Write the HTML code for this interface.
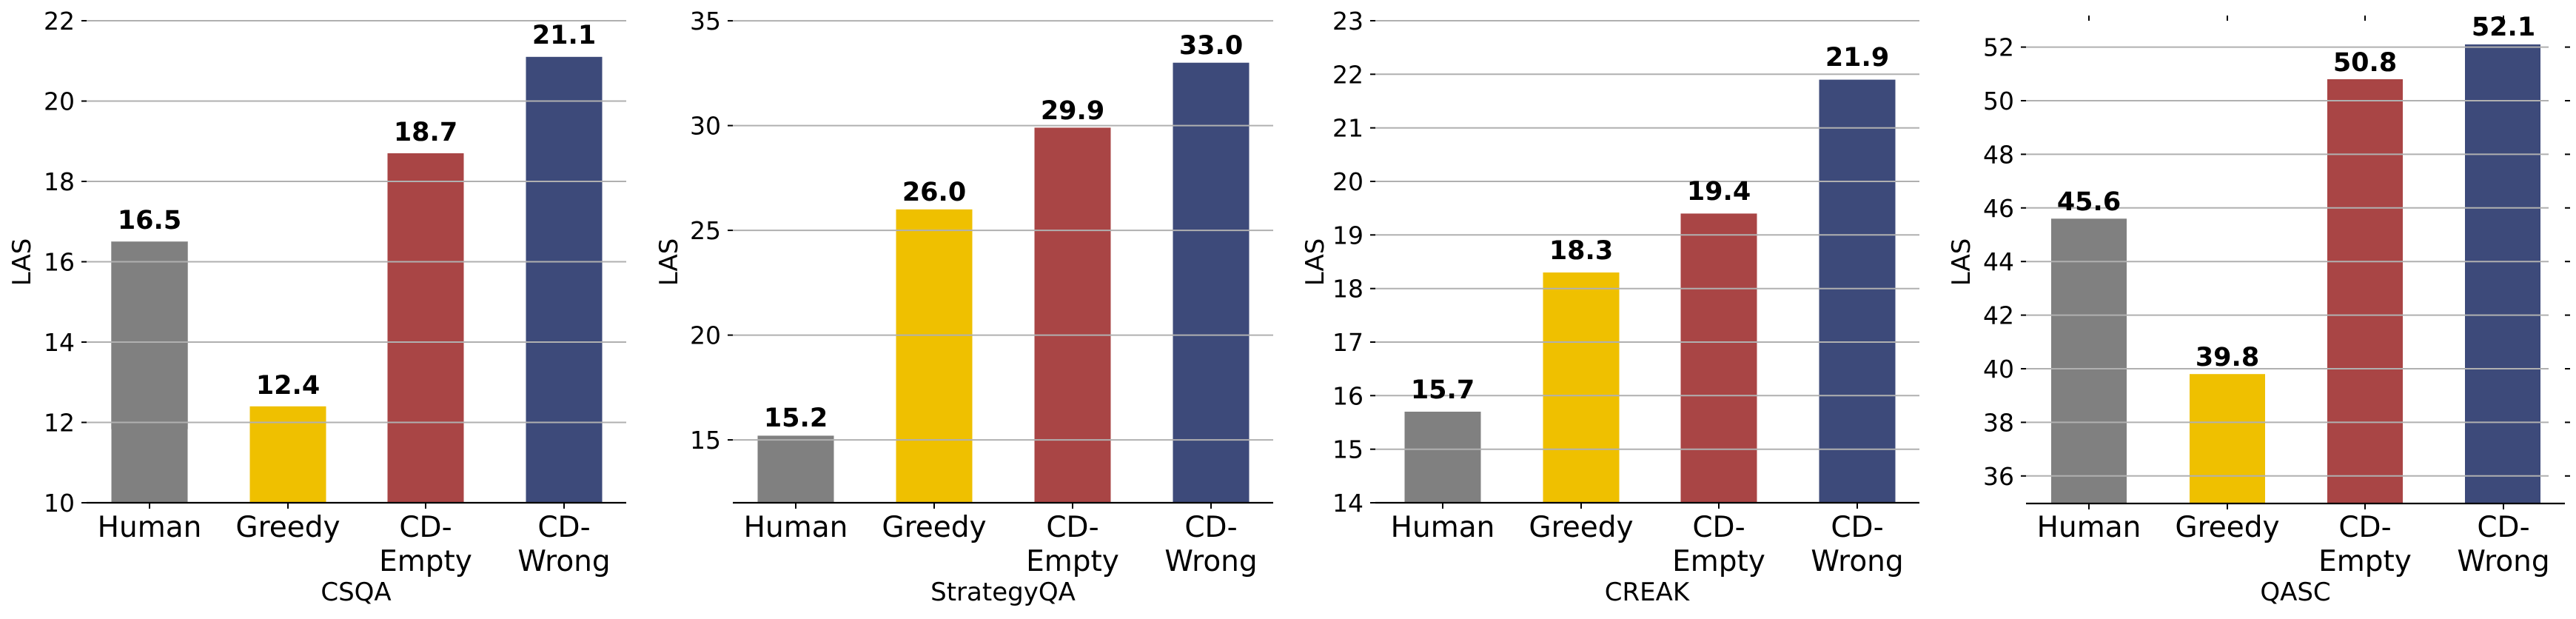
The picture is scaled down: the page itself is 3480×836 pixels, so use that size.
<!DOCTYPE html>
<html><head><meta charset="utf-8"><style>
html,body{margin:0;padding:0;background:#fff;}
svg{display:block;}
text{font-family:"DejaVu Sans","Liberation Sans",sans-serif;fill:#000;}
.t{font-size:33px;text-anchor:end;}
.x{font-size:39px;text-anchor:middle;}
.v{font-size:35px;font-weight:bold;text-anchor:middle;}
.l{font-size:34px;text-anchor:middle;}
.g{stroke:#b0b0b0;stroke-width:2;}
.k{stroke:#000;stroke-width:2;}
.s{stroke:#000;stroke-width:2.2;}
.b{stroke:#c8c8c8;stroke-width:1;}
</style></head><body>
<svg width="3480" height="836" viewBox="0 0 3480 836" xmlns="http://www.w3.org/2000/svg">
<!-- Panel 1 CSQA -->
<g>
<rect class="b" x="150.5" y="326.4" width="103" height="252.6" fill="#808080" transform="translate(0,0)"/>
<rect x="150.5" y="326.4" width="103" height="352.6" fill="#808080"/>
<rect x="337.5" y="548.8" width="103" height="130.2" fill="#EFC000"/>
<rect x="523.5" y="207" width="103" height="472" fill="#A94545"/>
<rect x="710.5" y="76.8" width="103" height="602.2" fill="#3D4A7A"/>
<line class="g" x1="117" x2="846" y1="570.5" y2="570.5"/>
<line class="g" x1="117" x2="846" y1="462" y2="462"/>
<line class="g" x1="117" x2="846" y1="353.5" y2="353.5"/>
<line class="g" x1="117" x2="846" y1="245" y2="245"/>
<line class="g" x1="117" x2="846" y1="136.5" y2="136.5"/>
<line class="g" x1="117" x2="846" y1="28" y2="28"/>
<line class="s" x1="117" x2="846" y1="679" y2="679"/>
<g class="k"><line x1="110" x2="117" y1="679" y2="679"/><line x1="110" x2="117" y1="570.5" y2="570.5"/><line x1="110" x2="117" y1="462" y2="462"/><line x1="110" x2="117" y1="353.5" y2="353.5"/><line x1="110" x2="117" y1="245" y2="245"/><line x1="110" x2="117" y1="136.5" y2="136.5"/><line x1="110" x2="117" y1="28" y2="28"/>
<line x1="202" x2="202" y1="679" y2="687"/><line x1="389" x2="389" y1="679" y2="687"/><line x1="575" x2="575" y1="679" y2="687"/><line x1="762" x2="762" y1="679" y2="687"/></g>
<text class="t" x="101" y="691">10</text><text class="t" x="101" y="582.5">12</text><text class="t" x="101" y="474">14</text><text class="t" x="101" y="365.5">16</text><text class="t" x="101" y="257">18</text><text class="t" x="101" y="148.5">20</text><text class="t" x="101" y="40">22</text>
<text class="v" x="202" y="309">16.5</text><text class="v" x="389" y="532">12.4</text><text class="v" x="575" y="190">18.7</text><text class="v" x="762" y="59">21.1</text>
<text class="x" x="202" y="725">Human</text><text class="x" x="389" y="725">Greedy</text>
<text class="x" x="575" y="725">CD-</text><text class="x" x="575" y="771">Empty</text>
<text class="x" x="762" y="725">CD-</text><text class="x" x="762" y="771">Wrong</text>
<text class="l" x="481" y="811">CSQA</text>
<text class="l" transform="translate(41,354) rotate(-90)">LAS</text>
</g>
<!-- Panel 2 StrategyQA -->
<g>
<rect x="1023.5" y="588.4" width="103" height="90.6" fill="#808080"/>
<rect x="1210.5" y="282.8" width="103" height="396.2" fill="#EFC000"/>
<rect x="1397.5" y="172.4" width="103" height="506.6" fill="#A94545"/>
<rect x="1584.5" y="84.7" width="103" height="594.3" fill="#3D4A7A"/>
<line class="g" x1="990" x2="1720" y1="594.1" y2="594.1"/>
<line class="g" x1="990" x2="1720" y1="452.6" y2="452.6"/>
<line class="g" x1="990" x2="1720" y1="311.1" y2="311.1"/>
<line class="g" x1="990" x2="1720" y1="169.6" y2="169.6"/>
<line class="g" x1="990" x2="1720" y1="28.1" y2="28.1"/>
<line class="s" x1="990" x2="1720" y1="679" y2="679"/>
<g class="k"><line x1="983" x2="990" y1="594.1" y2="594.1"/><line x1="983" x2="990" y1="452.6" y2="452.6"/><line x1="983" x2="990" y1="311.1" y2="311.1"/><line x1="983" x2="990" y1="169.6" y2="169.6"/><line x1="983" x2="990" y1="28.1" y2="28.1"/>
<line x1="1075" x2="1075" y1="679" y2="687"/><line x1="1262" x2="1262" y1="679" y2="687"/><line x1="1449" x2="1449" y1="679" y2="687"/><line x1="1636" x2="1636" y1="679" y2="687"/></g>
<text class="t" x="974" y="606">15</text><text class="t" x="974" y="464.6">20</text><text class="t" x="974" y="323">25</text><text class="t" x="974" y="181.6">30</text><text class="t" x="974" y="40">35</text>
<text class="v" x="1075" y="576">15.2</text><text class="v" x="1262" y="271">26.0</text><text class="v" x="1449" y="161">29.9</text><text class="v" x="1636" y="73">33.0</text>
<text class="x" x="1075" y="725">Human</text><text class="x" x="1262" y="725">Greedy</text>
<text class="x" x="1449" y="725">CD-</text><text class="x" x="1449" y="771">Empty</text>
<text class="x" x="1636" y="725">CD-</text><text class="x" x="1636" y="771">Wrong</text>
<text class="l" x="1355" y="811">StrategyQA</text>
<text class="l" transform="translate(915,354) rotate(-90)">LAS</text>
</g>
<!-- Panel 3 CREAK -->
<g>
<rect x="1897.5" y="556" width="103" height="123" fill="#808080"/>
<rect x="2084.5" y="368" width="103" height="311" fill="#EFC000"/>
<rect x="2270.5" y="288.4" width="103" height="390.6" fill="#A94545"/>
<rect x="2457.5" y="107.6" width="103" height="571.4" fill="#3D4A7A"/>
<line class="g" x1="1858" x2="2593" y1="606.7" y2="606.7"/>
<line class="g" x1="1858" x2="2593" y1="534.3" y2="534.3"/>
<line class="g" x1="1858" x2="2593" y1="462" y2="462"/>
<line class="g" x1="1858" x2="2593" y1="389.7" y2="389.7"/>
<line class="g" x1="1858" x2="2593" y1="317.3" y2="317.3"/>
<line class="g" x1="1858" x2="2593" y1="245" y2="245"/>
<line class="g" x1="1858" x2="2593" y1="172.7" y2="172.7"/>
<line class="g" x1="1858" x2="2593" y1="100.3" y2="100.3"/>
<line class="g" x1="1858" x2="2593" y1="28" y2="28"/>
<line class="s" x1="1858" x2="2593" y1="679" y2="679"/>
<g class="k"><line x1="1851" x2="1858" y1="679" y2="679"/><line x1="1851" x2="1858" y1="606.7" y2="606.7"/><line x1="1851" x2="1858" y1="534.3" y2="534.3"/><line x1="1851" x2="1858" y1="462" y2="462"/><line x1="1851" x2="1858" y1="389.7" y2="389.7"/><line x1="1851" x2="1858" y1="317.3" y2="317.3"/><line x1="1851" x2="1858" y1="245" y2="245"/><line x1="1851" x2="1858" y1="172.7" y2="172.7"/><line x1="1851" x2="1858" y1="100.3" y2="100.3"/><line x1="1851" x2="1858" y1="28" y2="28"/>
<line x1="1949" x2="1949" y1="679" y2="687"/><line x1="2136" x2="2136" y1="679" y2="687"/><line x1="2322" x2="2322" y1="679" y2="687"/><line x1="2509" x2="2509" y1="679" y2="687"/></g>
<text class="t" x="1842" y="691">14</text><text class="t" x="1842" y="618.7">15</text><text class="t" x="1842" y="546.3">16</text><text class="t" x="1842" y="474">17</text><text class="t" x="1842" y="401.7">18</text><text class="t" x="1842" y="329.3">19</text><text class="t" x="1842" y="257">20</text><text class="t" x="1842" y="184.7">21</text><text class="t" x="1842" y="112.3">22</text><text class="t" x="1842" y="40">23</text>
<text class="v" x="1949" y="538">15.7</text><text class="v" x="2136" y="350">18.3</text><text class="v" x="2322" y="270">19.4</text><text class="v" x="2509" y="89">21.9</text>
<text class="x" x="1949" y="725">Human</text><text class="x" x="2136" y="725">Greedy</text>
<text class="x" x="2322" y="725">CD-</text><text class="x" x="2322" y="771">Empty</text>
<text class="x" x="2509" y="725">CD-</text><text class="x" x="2509" y="771">Wrong</text>
<text class="l" x="2225" y="811">CREAK</text>
<text class="l" transform="translate(1788,354) rotate(-90)">LAS</text>
</g>
<!-- Panel 4 QASC -->
<g>
<rect x="2771" y="295.3" width="102" height="383.7" fill="#808080"/>
<rect x="2958" y="505.2" width="102" height="173.8" fill="#EFC000"/>
<rect x="3144" y="107" width="102" height="572" fill="#A94545"/>
<rect x="3330" y="60" width="102" height="619" fill="#3D4A7A"/>
<line class="g" x1="2737" x2="3443" y1="642.8" y2="642.8"/>
<line class="g" x1="2737" x2="3443" y1="570.4" y2="570.4"/>
<line class="g" x1="2737" x2="3443" y1="498" y2="498"/>
<line class="g" x1="2737" x2="3443" y1="425.6" y2="425.6"/>
<line class="g" x1="2737" x2="3443" y1="353.2" y2="353.2"/>
<line class="g" x1="2737" x2="3443" y1="280.8" y2="280.8"/>
<line class="g" x1="2737" x2="3443" y1="208.4" y2="208.4"/>
<line class="g" x1="2737" x2="3443" y1="136" y2="136"/>
<line class="g" x1="2737" x2="3443" y1="63.6" y2="63.6"/>
<line class="s" x1="2737" x2="3465" y1="680" y2="680"/>
<g class="k">
<line x1="2730" x2="2737" y1="642.8" y2="642.8"/><line x1="2730" x2="2737" y1="570.4" y2="570.4"/><line x1="2730" x2="2737" y1="498" y2="498"/><line x1="2730" x2="2737" y1="425.6" y2="425.6"/><line x1="2730" x2="2737" y1="353.2" y2="353.2"/><line x1="2730" x2="2737" y1="280.8" y2="280.8"/><line x1="2730" x2="2737" y1="208.4" y2="208.4"/><line x1="2730" x2="2737" y1="136" y2="136"/><line x1="2730" x2="2737" y1="63.6" y2="63.6"/>
<line x1="3465" x2="3472" y1="642.8" y2="642.8"/><line x1="3465" x2="3472" y1="570.4" y2="570.4"/><line x1="3465" x2="3472" y1="498" y2="498"/><line x1="3465" x2="3472" y1="425.6" y2="425.6"/><line x1="3465" x2="3472" y1="353.2" y2="353.2"/><line x1="3465" x2="3472" y1="280.8" y2="280.8"/><line x1="3465" x2="3472" y1="208.4" y2="208.4"/><line x1="3465" x2="3472" y1="136" y2="136"/><line x1="3465" x2="3472" y1="63.6" y2="63.6"/>
<line x1="2822" x2="2822" y1="680" y2="688"/><line x1="3009" x2="3009" y1="680" y2="688"/><line x1="3195" x2="3195" y1="680" y2="688"/><line x1="3382" x2="3382" y1="680" y2="688"/>
<line x1="2822" x2="2822" y1="21" y2="28"/><line x1="3009" x2="3009" y1="21" y2="28"/><line x1="3195" x2="3195" y1="21" y2="28"/><line x1="3382" x2="3382" y1="21" y2="28"/>
</g>
<text class="t" x="2721" y="654.8">36</text><text class="t" x="2721" y="582.4">38</text><text class="t" x="2721" y="510">40</text><text class="t" x="2721" y="437.6">42</text><text class="t" x="2721" y="365.2">44</text><text class="t" x="2721" y="292.8">46</text><text class="t" x="2721" y="220.4">48</text><text class="t" x="2721" y="148">50</text><text class="t" x="2721" y="75.6">52</text>
<text class="v" x="2822" y="284">45.6</text><text class="v" x="3009" y="494">39.8</text><text class="v" x="3195" y="96">50.8</text><text class="v" x="3382" y="48">52.1</text>
<text class="x" x="2822" y="725">Human</text><text class="x" x="3009" y="725">Greedy</text>
<text class="x" x="3195" y="725">CD-</text><text class="x" x="3195" y="771">Empty</text>
<text class="x" x="3382" y="725">CD-</text><text class="x" x="3382" y="771">Wrong</text>
<text class="l" x="3101" y="811">QASC</text>
<text class="l" transform="translate(2661,354) rotate(-90)">LAS</text>
</g>
</svg>
</body></html>
